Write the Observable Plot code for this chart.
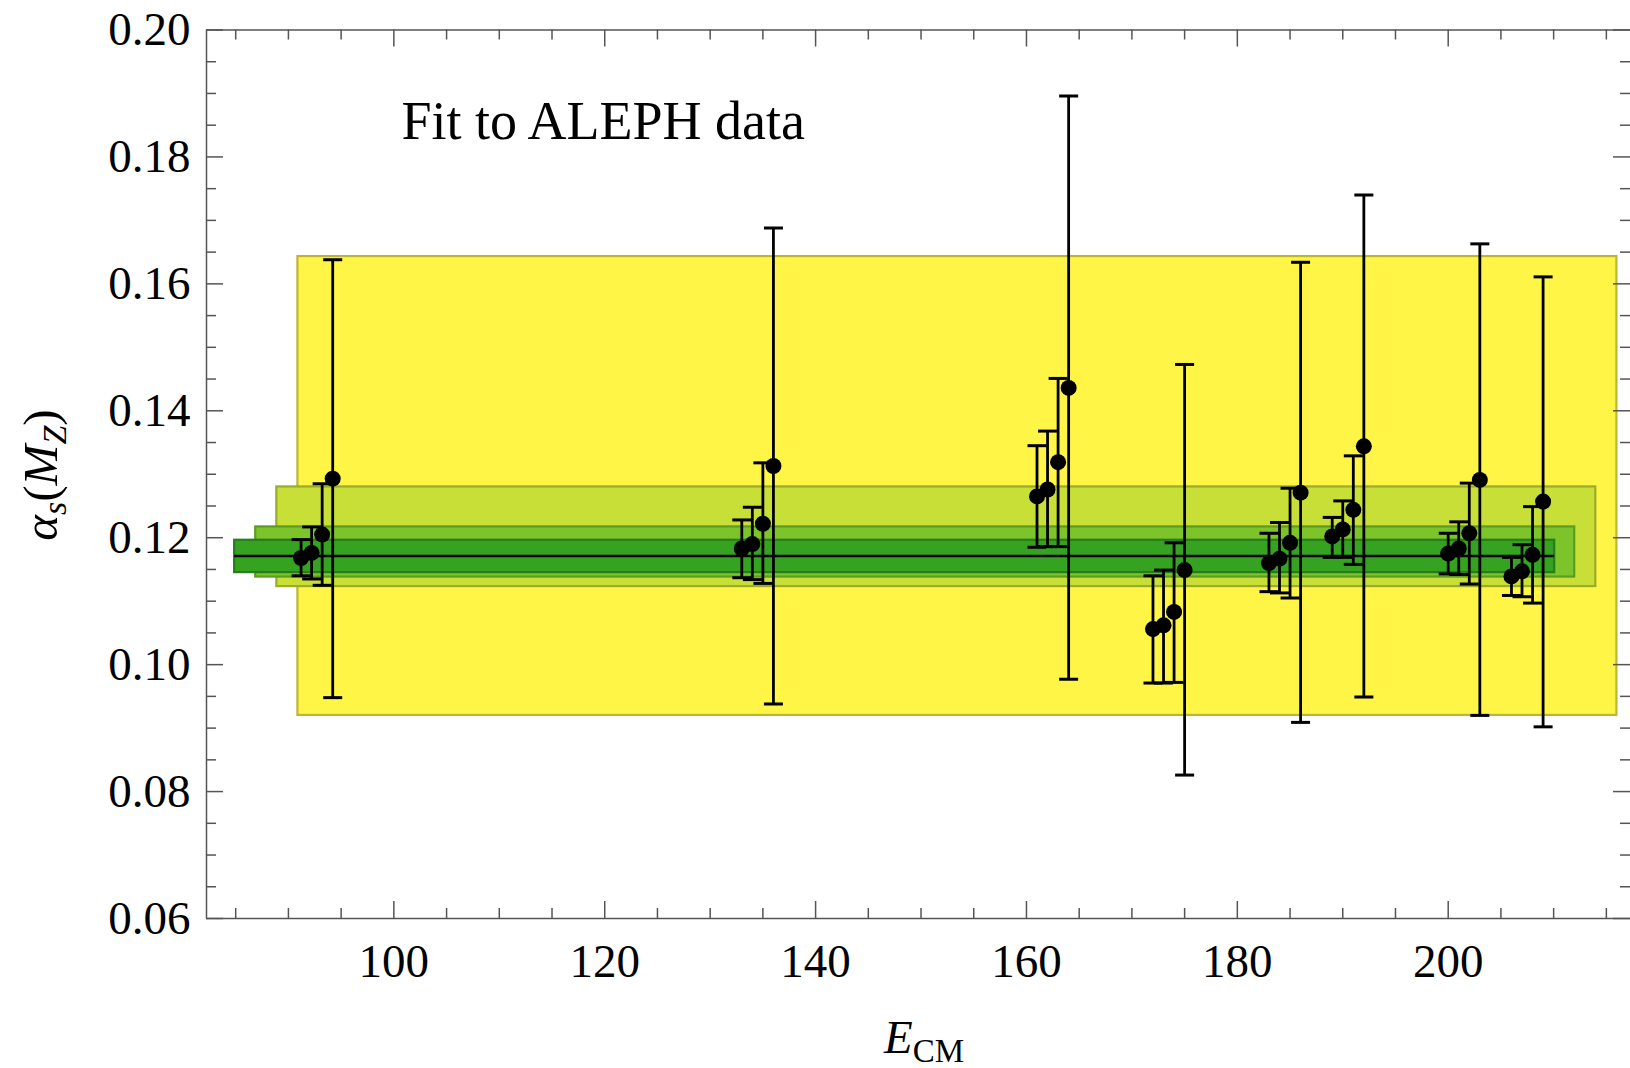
<!DOCTYPE html>
<html>
<head>
<meta charset="utf-8">
<script src="https://cdn.jsdelivr.net/npm/d3@7"></script>
<script src="https://cdn.jsdelivr.net/npm/@observablehq/plot@0.6"></script>
<style>
  html, body { margin: 0; padding: 0; background: white; }
  #chart { width: 1630px; height: 1068px; overflow: hidden; }
</style>
</head>
<body>
<div id="chart"></div>
<script>
// ---- Data ----
const energies = [91.2, 92.2, 93.2, 94.2, 133, 134, 135, 136, 161, 162, 163, 164, 172, 173, 174, 175,
                  183, 184, 185, 186, 189, 190, 191, 192, 200, 201, 202, 203, 206, 207, 208, 209];
const alphaS   = [0.1168, 0.1176, 0.1205, 0.1293, 0.1183, 0.1190, 0.1222, 0.1313, 0.1265, 0.1276, 0.1319, 0.1436,
                  0.1056, 0.1062, 0.1083, 0.1149, 0.1160, 0.1167, 0.1192, 0.1271, 0.1202, 0.1213, 0.1244, 0.1344,
                  0.1175, 0.1183, 0.1207, 0.1291, 0.1139, 0.1147, 0.1173, 0.1257];
const errLow   = [0.1140, 0.1135, 0.1125, 0.0948, 0.1137, 0.1134, 0.1128, 0.0938, 0.1185, 0.1186, 0.1186, 0.0977,
                  0.0971, 0.0971, 0.0972, 0.0826, 0.1115, 0.1113, 0.1105, 0.0909, 0.1169, 0.1169, 0.1158, 0.0949,
                  0.1143, 0.1142, 0.1127, 0.0920, 0.1109, 0.1107, 0.1097, 0.0902];
const errHigh  = [0.1197, 0.1217, 0.1285, 0.1638, 0.1228, 0.1248, 0.1318, 0.1688, 0.1345, 0.1368, 0.1451, 0.1896,
                  0.1140, 0.1149, 0.1192, 0.1473, 0.1207, 0.1224, 0.1278, 0.1634, 0.1232, 0.1258, 0.1329, 0.1740,
                  0.1207, 0.1225, 0.1286, 0.1663, 0.1169, 0.1189, 0.1249, 0.1611];

// Fit bands (outer to inner)
const bandX1 = [90.9, 88.9, 86.9, 84.9];
const bandX2 = [216.0, 214.0, 212.0, 210.1];
const bandY1 = [0.0920, 0.1123, 0.1138, 0.1145];
const bandY2 = [0.1643, 0.1280, 0.1217, 0.1196];
const bandFill   = ["#FFF546", "#C8DF37", "#7DC42B", "#35A321"];
const bandStroke = ["#BDB631", "#9CAB2B", "#5E9B22", "#267D19"];
const fitValue = 0.1171;

// Axes
const xDomain = [82.23, 217.29];
const yDomain = [0.06, 0.20];
const xMajor = [100, 120, 140, 160, 180, 200];
const xMinor = d3.range(85, 216, 5).filter(v => !xMajor.includes(v));
const yMajor = [0.06, 0.08, 0.10, 0.12, 0.14, 0.16, 0.18, 0.20];
const yMinor = d3.range(0, 29).map(i => +(0.06 + i * 0.005).toFixed(3)).filter(v => !yMajor.some(m => Math.abs(m - v) < 1e-9));
const annotation = ["Fit to ALEPH data"];

// ---- Build tables ----
const points = energies.map((e, i) => ({x: e, y: alphaS[i], lo: errLow[i], hi: errHigh[i]}));
const bands = bandX1.map((_, i) => ({x1: bandX1[i], x2: bandX2[i], y1: bandY1[i], y2: bandY2[i], fill: bandFill[i], stroke: bandStroke[i]}));

// ---- Layout ----
const W = 1630, H = 1068;
const mL = 206, mR = 0, mT = 29.5, mB = 150;
const fw = W - mL - mR, fh = H - mT - mB;
const axisColor = "#555";
const majLen = 17, minLen = 10;
const font = "'Liberation Serif', 'Times New Roman', serif";

const capSymbol = { draw(ctx) { ctx.moveTo(-9.5, 0); ctx.lineTo(9.5, 0); } };

const chart = Plot.plot({
  width: W, height: H,
  marginLeft: mL, marginRight: mR, marginTop: mT, marginBottom: mB,
  x: {domain: xDomain},
  y: {domain: yDomain},
  style: {fontFamily: font, background: "white", color: "black"},
  marks: [
    // bands
    Plot.rect(bands, {x1: "x1", x2: "x2", y1: "y1", y2: "y2", fill: d => d.fill, stroke: d => d.stroke, strokeWidth: 2.2}),
    // central fit line
    Plot.ruleY([fitValue], {x1: bandX1[3], x2: bandX2[3], stroke: "black", strokeWidth: 2.5}),
    // error bars
    Plot.ruleX(points, {x: "x", y1: "lo", y2: "hi", stroke: "black", strokeWidth: 2.8}),
    Plot.dot(points, {x: "x", y: "lo", symbol: capSymbol, r: 5, stroke: "black", fill: "none", strokeWidth: 3}),
    Plot.dot(points, {x: "x", y: "hi", symbol: capSymbol, r: 5, stroke: "black", fill: "none", strokeWidth: 3}),
    Plot.dot(points, {x: "x", y: "y", r: 8, fill: "black", stroke: "none"}),
    // frame lines
    Plot.ruleX([xDomain[0]], {stroke: axisColor, strokeWidth: 1.5}),
    Plot.ruleY([yDomain[0], yDomain[1]], {stroke: axisColor, strokeWidth: 1.5}),
    // ticks: bottom & top
    Plot.ruleX(xMajor, {x: d => d, insetTop: fh - majLen, stroke: axisColor, strokeWidth: 1.5}),
    Plot.ruleX(xMinor, {x: d => d, insetTop: fh - minLen, stroke: axisColor, strokeWidth: 1.5}),
    Plot.ruleX(xMajor, {x: d => d, insetBottom: fh - majLen, stroke: axisColor, strokeWidth: 1.5}),
    Plot.ruleX(xMinor, {x: d => d, insetBottom: fh - minLen, stroke: axisColor, strokeWidth: 1.5}),
    // ticks: left & right
    Plot.ruleY(yMajor, {y: d => d, insetRight: fw - majLen, stroke: axisColor, strokeWidth: 1.5}),
    Plot.ruleY(yMinor, {y: d => d, insetRight: fw - minLen, stroke: axisColor, strokeWidth: 1.5}),
    Plot.ruleY(yMajor, {y: d => d, insetLeft: fw - majLen, stroke: axisColor, strokeWidth: 1.5}),
    Plot.ruleY(yMinor, {y: d => d, insetLeft: fw - minLen, stroke: axisColor, strokeWidth: 1.5}),
    // tick labels
    Plot.axisX({ticks: xMajor, tickSize: 0, tickPadding: 25, fontSize: 47, tickFormat: d => String(d), label: null, fill: "black"}),
    Plot.axisY({ticks: yMajor, tickSize: 0, tickPadding: 16, fontSize: 47, tickFormat: d3.format(".2f"), label: null, fill: "black"}),
    // annotation
    Plot.text(annotation, {text: d => d, frameAnchor: "top-left", dx: 195, dy: 71, lineAnchor: "top", textAnchor: "start", fontSize: 54, fill: "black"})
  ]
});

document.getElementById("chart").appendChild(chart);

// Axis titles with sub-scripts
const svg = d3.select(chart);
const yt = svg.append("text")
  .attr("transform", "translate(57,475) rotate(-90)")
  .attr("text-anchor", "middle")
  .attr("font-family", font)
  .attr("font-size", 49)
  .attr("fill", "black");
yt.append("tspan").attr("font-style", "italic").text("α");
yt.append("tspan").attr("font-style", "italic").attr("font-size", 34).attr("dy", 9).text("s");
yt.append("tspan").attr("dy", -9).text("(");
yt.append("tspan").attr("font-style", "italic").text("M");
yt.append("tspan").attr("font-style", "italic").attr("font-size", 34).attr("dy", 9).text("Z");
yt.append("tspan").attr("dy", -9).text(")");

const xt = svg.append("text")
  .attr("x", 924).attr("y", 1053)
  .attr("text-anchor", "middle")
  .attr("font-family", font)
  .attr("font-size", 47)
  .attr("fill", "black");
xt.append("tspan").attr("font-style", "italic").text("E");
xt.append("tspan").attr("font-size", 33).attr("dy", 9).text("CM");
</script>
</body>
</html>
